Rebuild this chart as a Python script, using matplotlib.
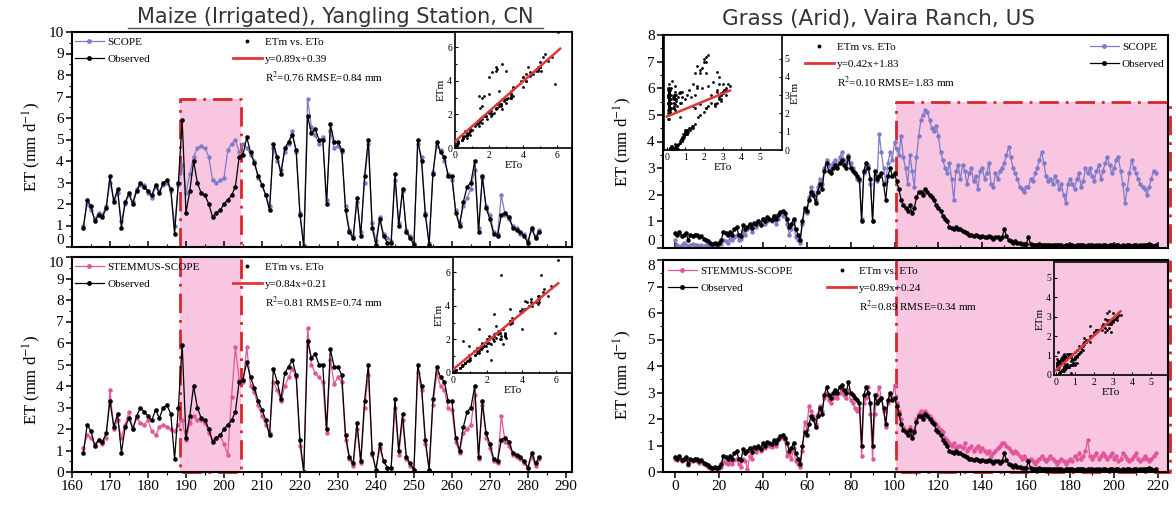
import numpy as np
import matplotlib.pyplot as plt
from matplotlib.lines import Line2D
from matplotlib.patches import Rectangle
from matplotlib.ticker import MultipleLocator

plt.rcParams["font.family"] = ["Liberation Serif", "DejaVu Serif"]
plt.rcParams["mathtext.fontset"] = "stix"

# ---- Maize (Irrigated), Yangling Station: DOY 163..283 ----
days_m = np.arange(163, 284)
obs_m = [0.9, 2.2, 1.9, 1.2, 1.5, 1.4, 1.8, 3.3, 2.1, 2.7,
         0.9, 2.1, 2.5, 2.0, 2.6, 3.0, 2.8, 2.6, 2.4, 2.9,
         2.5, 3.0, 3.1, 2.7, 0.6, 3.0, 5.9, 1.6, 2.6, 4.0,
         3.0, 2.5, 2.4, 2.0, 1.4, 1.6, 1.7, 2.0, 2.2, 2.4,
         2.8, 4.2, 4.3, 5.1, 4.4, 3.9, 3.3, 2.9, 2.4, 1.7,
         4.8, 4.2, 3.4, 4.6, 4.9, 5.2, 4.5,
         1.5, 0.0, 6.1, 5.3, 5.5, 5.0, 5.0, 2.0, 5.7, 4.9,
         4.9, 4.5, 1.7, 0.7, 0.4, 2.3, 0.5, 3.3, 5.0, 0.9,
         0.1, 1.3, 0.5, 0.2, 0.2, 3.4, 1.0, 2.7, 0.7, 0.4,
         0.1, 5.0, 4.0, 1.5, 0.1, 3.4, 4.9, 4.4, 4.2, 3.3,
         3.3, 1.6, 1.0, 2.1, 2.8, 3.0, 4.0, 0.7, 3.3, 1.8,
         1.3, 0.6, 0.5, 1.5, 1.6, 1.4, 0.9, 0.8, 0.7, 0.5,
         0.2, 0.9, 0.4, 0.7]
scope_m = [1.0, 2.0, 1.7, 1.3, 1.6, 1.5, 1.9, 3.0, 2.2, 2.5,
           1.2, 2.0, 2.4, 2.1, 2.7, 2.9, 2.9, 2.5, 2.3, 2.8,
           2.6, 2.9, 3.0, 2.6, 1.0, 2.9,
           3.8, 2.5, 3.4, 4.2, 4.6, 4.7, 4.6, 4.2, 3.1, 3.0,
           3.1, 3.2, 4.5, 4.8, 5.0, 4.4, 4.8,
           4.6, 4.3, 4.0, 3.2, 2.9, 2.4, 1.9, 4.6, 4.0, 3.6,
           4.4, 4.8, 5.4, 4.4,
           1.6, 0.1, 6.9, 5.6, 5.2, 4.8, 5.1, 2.2, 5.4, 4.6,
           4.7, 4.4, 1.9, 0.8, 0.5, 2.1, 0.7, 3.0, 4.8, 1.1,
           0.3, 1.4, 0.6, 0.4, 0.3, 3.1, 1.1, 2.6, 0.8, 0.5,
           0.2, 4.8, 4.2, 1.6, 0.2, 3.5, 4.7, 4.5, 4.0, 3.4,
           3.1, 1.7, 1.1, 1.9, 2.3, 2.7, 3.6, 0.9, 3.2, 1.9,
           1.5, 0.7, 0.6, 2.4, 1.5, 1.3, 1.0, 0.9, 0.6, 0.6,
           0.3, 0.8, 0.5, 0.8]
stem_m = [1.1, 1.7, 1.6, 1.3, 1.5, 1.3, 1.6, 3.8, 2.0, 2.4,
          1.6, 2.2, 2.8, 2.0, 2.5, 2.3, 2.2, 2.4, 1.9, 1.7,
          2.1, 2.2, 2.1, 2.0, 1.9, 2.2,
          2.4, 1.5, 2.3, 2.6, 2.4, 2.4, 2.3, 1.8, 1.5, 1.6,
          1.7, 1.3, 0.8, 3.5, 5.8, 4.3, 4.2,
          5.8, 4.0, 3.7, 3.1, 2.6, 2.2, 1.8, 4.2, 3.8, 3.3,
          4.0, 4.4, 4.8, 4.4,
          1.2, 0.0, 6.7, 5.0, 4.6, 4.4, 4.2, 1.8, 5.2, 4.1,
          4.4, 4.2, 1.5, 0.6, 0.3, 2.0, 0.4, 3.0, 4.5, 0.8,
          0.1, 1.1, 0.5, 0.2, 0.2, 3.0, 0.8, 2.4, 0.6, 0.3,
          0.1, 4.6, 3.8, 1.3, 0.1, 3.1, 4.6, 4.0, 3.8, 3.0,
          2.9, 1.4, 0.9, 1.8, 2.0, 2.2, 3.6, 0.6, 3.1, 1.6,
          1.1, 0.5, 0.4, 2.6, 1.4, 1.2, 0.8, 0.7, 0.6, 0.4,
          0.2, 0.7, 0.3, 0.6]

# ---- Grass (Arid), Vaira Ranch: day 0..219 ----
days_g = np.arange(0, 220)
obs_g = [0.55, 0.5, 0.6, 0.45, 0.5, 0.55, 0.3, 0.5, 0.45, 0.5,
         0.5, 0.4, 0.45, 0.35, 0.3, 0.25, 0.2, 0.15, 0.2, 0.15,
         0.2, 0.3, 0.6, 0.55, 0.5, 0.6, 0.5, 0.7, 0.8, 0.5,
         0.45, 0.85, 0.7, 0.8, 0.9, 0.75, 0.95, 0.9, 1.0, 0.85,
         1.1, 1.0, 1.15, 1.1, 1.05, 1.2, 1.1, 1.25, 1.35, 1.4,
         1.3, 1.1, 0.8, 0.9, 1.1, 0.7, 0.5, 0.3, 1.0, 1.5,
         1.4, 1.8, 2.1, 2.0, 1.7, 2.1, 2.4, 2.2, 2.9, 3.2,
         2.9, 2.8, 3.0, 3.1, 3.0, 3.2, 3.3, 3.1, 3.0, 3.4,
         3.0, 2.9, 2.8, 2.7, 2.6, 1.0, 2.9, 3.2, 3.0, 2.6,
         1.0, 2.9, 2.6, 2.7, 2.8, 2.4, 1.8, 2.7, 3.0, 2.7,
         2.8, 2.5, 2.2, 1.8, 1.6, 1.5, 1.4, 1.6, 1.3, 1.5,
         1.9, 2.1, 2.1, 2.0, 2.2, 2.1, 2.0, 1.9, 1.8, 1.6,
         1.5, 1.4, 1.2, 1.1, 1.0, 0.8, 0.75, 0.7, 0.8, 0.7,
         0.7, 0.65, 0.6, 0.55, 0.5, 0.5, 0.45, 0.5, 0.45, 0.4,
         0.45, 0.4, 0.4, 0.45, 0.4, 0.35, 0.4, 0.4, 0.35, 0.4,
         0.7, 0.45, 0.3, 0.25, 0.2, 0.25, 0.2, 0.2, 0.15, 0.15,
         0.15, 0.4, 0.15, 0.1, 0.12, 0.1, 0.15, 0.12, 0.1, 0.1,
         0.1, 0.12, 0.1, 0.1, 0.12, 0.1, 0.1, 0.08, 0.1, 0.12,
         0.1, 0.1, 0.08, 0.1, 0.1, 0.12, 0.1, 0.08, 0.1, 0.1,
         0.1, 0.08, 0.1, 0.1, 0.08, 0.1, 0.1, 0.08, 0.1, 0.1,
         0.08, 0.1, 0.1, 0.08, 0.1, 0.08, 0.1, 0.1, 0.08, 0.1,
         0.1, 0.08, 0.1, 0.12, 0.1, 0.12, 0.15, 0.1, 0.08, 0.1]
scope_g = [0.3, 0.1, 0.05, 0.1, 0.2, 0.1, 0.05, 0.1, 0.15, 0.1,
           0.1, 0.05, 0.1, 0.05, 0.1, 0.05, 0.05, 0.1, 0.05, 0.1,
           0.2, 0.15, 0.3, 0.25, 0.2, 0.35, 0.3, 0.4, 0.5, 0.3,
           0.35, 0.6, 0.5, 0.7, 0.8, 0.6, 0.9, 0.8, 1.0, 0.9,
           1.1, 0.9, 1.0, 1.1, 1.0, 1.2, 0.9, 1.1, 1.3, 1.2,
           1.2, 0.9, 0.5, 0.7, 1.0, 0.4, 0.3, 0.2, 0.9, 1.4,
           1.3, 1.9, 2.3, 2.1, 1.8, 2.3, 2.6, 2.4, 3.0, 3.3,
           3.1, 2.9, 3.2, 3.3, 3.1, 3.4, 3.6, 3.3, 3.2, 3.5,
           3.2, 3.0, 2.8, 2.6, 2.5, 1.1, 2.8, 3.0, 3.1, 2.4,
           1.0, 2.7, 2.5, 4.3, 3.6, 3.0, 2.5, 3.2, 3.6, 3.3,
           4.0, 3.7, 3.5, 4.2, 3.4, 3.0, 2.4, 3.5, 2.9, 2.3,
           3.4, 4.2, 4.8, 5.0, 5.2, 5.1, 4.8, 4.5, 4.4, 4.6,
           4.2, 3.6, 3.3, 3.0, 2.8, 3.2, 2.6, 1.8, 2.9, 3.1,
           2.6, 3.1, 2.9, 2.4, 2.8, 3.0, 2.5, 2.7, 2.2, 2.9,
           3.0, 2.6, 2.8, 3.2, 2.4, 2.3, 2.8, 2.6, 2.9, 3.0,
           3.2, 3.5, 3.8, 3.4, 3.0, 2.8, 2.6, 2.3, 2.2, 2.1,
           2.3, 2.3, 2.6, 2.5, 2.8, 3.0, 3.3, 3.6, 3.2, 2.7,
           2.5, 2.6, 2.4, 2.7, 2.5, 2.2, 2.4, 2.0, 1.7, 2.4,
           2.6, 2.4, 2.2, 2.6, 2.8, 2.3, 2.5, 3.0, 2.8, 3.0,
           2.7, 2.5, 2.9, 3.1, 2.6, 2.9, 3.2, 3.4, 3.1, 2.8,
           3.0, 3.3, 3.4, 2.9, 2.4, 1.7, 2.2, 2.8, 3.3, 3.0,
           2.8, 2.6, 2.4, 2.3, 2.2, 2.0, 2.3, 2.6, 2.9, 2.8]
stem_g = [0.5, 0.45, 0.55, 0.4, 0.45, 0.5, 0.25, 0.4, 0.4, 0.45,
          0.4, 0.35, 0.4, 0.3, 0.25, 0.2, 0.15, 0.1, 0.15, 0.1,
          0.15, 0.2, 0.4, 0.35, 0.3, 0.4, 0.3, 0.45, 0.5, 0.3,
          0.2, 0.5, 0.4, 0.1, 0.6, 0.5, 0.8, 0.75, 0.9, 0.8,
          1.0, 0.9, 1.1, 1.0, 0.95, 1.1, 1.0, 1.2, 1.3, 1.3,
          1.2, 0.6, 0.7, 0.5, 0.9, 0.4, 0.3, 0.2, 0.8, 1.9,
          1.6, 2.5, 2.3, 2.1, 1.8, 2.2, 2.5, 2.3, 2.8, 3.0,
          2.7, 2.6, 2.8, 2.9, 2.8, 3.0, 3.1, 2.9, 2.8, 3.1,
          2.7, 2.6, 2.4, 2.3, 2.4, 0.6, 2.6, 2.8, 3.2, 2.2,
          0.5, 2.2, 2.9, 3.2, 2.8, 2.3, 1.7, 2.6, 2.9, 2.8,
          3.3, 2.6, 2.3, 2.0, 1.7, 1.6, 1.5, 1.7, 1.4, 1.6,
          2.0, 2.2, 2.3, 2.2, 2.3, 2.2, 2.1, 2.0, 1.9, 1.8,
          1.7, 1.6, 1.5, 1.3, 1.2, 1.1, 1.0, 1.1, 0.9, 1.0,
          1.0, 0.9, 1.1, 0.8, 0.9, 1.0, 0.8, 0.9, 1.0, 0.8,
          0.9, 0.8, 0.7, 0.8, 0.6, 0.7, 0.8, 0.9, 1.0, 1.1,
          1.1, 1.0, 0.9, 0.8, 0.7, 0.8, 0.7, 0.6, 0.5, 0.6,
          0.5, 0.4, 0.5, 0.4, 0.3, 0.4, 0.5, 0.6, 0.5, 0.4,
          0.5, 0.6, 0.5, 0.4, 0.3, 0.4, 0.5, 0.4, 0.3, 0.4,
          0.5, 0.4, 0.6, 0.5, 0.7, 0.5, 0.6, 0.8, 1.2, 0.6,
          0.5, 0.6, 0.7, 0.5, 0.6, 0.7, 0.6, 0.5, 0.6, 0.7,
          0.5, 0.6, 0.4, 0.5, 0.7, 0.6, 0.5, 0.4, 0.5, 0.6,
          0.7, 0.5, 0.4, 0.5, 0.6, 0.5, 0.4, 0.5, 0.6, 0.7]

# regression lines printed in the insets (slope, intercept, R2, RMSE)
fit_scope_m = (0.89, 0.39, "0.76", "0.84")
fit_stem_m = (0.84, 0.21, "0.81", "0.74")
fit_scope_g = (0.42, 1.83, "0.10", "1.83")
fit_stem_g = (0.89, 0.24, "0.89", "0.34")

W, H = 1176, 512
PINK = "#f9c6e1"
RED = "#d8262c"
FITRED = "#e03838"
SCOPE_C = "#7f7bc9"
STEM_C = "#e2559a"
DASHDOT = (0, (7, 2.5, 1, 2.5))


def rect(x0, y0, x1, y1):
    # pixel box of the reference -> figure fraction
    return [x0 / W, 1 - y1 / H, (x1 - x0) / W, (y1 - y0) / H]


fig = plt.figure(figsize=(W / 100, H / 100), dpi=100)
fig.patch.set_facecolor("white")


def main_axes(box, xlim, ylim, xmaj, xmin, ymaj, ymin, bottom):
    ax = fig.add_axes(rect(*box))
    ax.set_xlim(*xlim)
    ax.set_ylim(*ylim)
    ax.xaxis.set_major_locator(MultipleLocator(xmaj))
    ax.xaxis.set_minor_locator(MultipleLocator(xmin))
    ax.set_yticks(np.arange(ylim[0], ylim[1] + ymaj / 2, ymaj))
    ax.yaxis.set_minor_locator(MultipleLocator(ymin))
    for s in ax.spines.values():
        s.set_linewidth(1.5)
        s.set_zorder(6)
    ax.tick_params(which="major", direction="out", length=4, width=1.1, labelsize=11, pad=2)
    ax.tick_params(which="minor", direction="out", length=2.5, width=0.8)
    ticks = ax.yaxis.get_major_ticks()
    if not bottom:
        ax.tick_params(axis="x", which="both", direction="in", labelbottom=False)
        ticks[0].label1.set_va("bottom")   # "0" sits just above the panel seam
    else:
        ticks[-1].label1.set_va("top")     # top label sits just below the seam
    return ax


def draw_series(ax, x, model, obs, color):
    ax.plot(x, model, color=color, lw=0.9, marker="o", ms=2.2, zorder=3)
    ax.plot(x, obs, color="k", lw=0.9, marker="o", ms=2.3, zorder=4)


def legends(ax, model_name, color, fit, loc1, loc2):
    h1 = [Line2D([], [], color=color, lw=0.9, marker="o", ms=2.5),
          Line2D([], [], color="k", lw=0.9, marker="o", ms=2.5)]
    kw = dict(frameon=False, fontsize=8, handlelength=2.6, handletextpad=0.3,
              labelspacing=0.6, borderaxespad=0, borderpad=0, numpoints=1)
    lg1 = ax.legend(h1, [model_name, "Observed"], **loc1, **kw)
    ax.add_artist(lg1)
    slope, icpt, r2, rmse = fit
    h2 = [Line2D([], [], lw=0, marker="o", ms=1.8, color="k"),
          Line2D([], [], color=FITRED, lw=2),
          Line2D([], [], lw=0)]
    labels = ["ETm vs. ETo", f"y={slope:.2f}x+{icpt:.2f}",
              f"R$^2$={r2} RMSE={rmse} mm"]
    lg2 = ax.legend(h2, labels, **loc2, **kw)
    lg2.set_zorder(7)


def inset(box, x, y, fit, xlim, ylim, ticks, minor, fit_xmax, yright=False, face="white"):
    a = fig.add_axes(rect(*box))
    a.set_facecolor(face)
    a.scatter(x, y, s=4, c="k", lw=0, zorder=3)
    slope, icpt = fit[0], fit[1]
    xf = np.array([0.0, fit_xmax])
    a.plot(xf, slope * xf + icpt, color=FITRED, lw=1.8, zorder=4)
    a.set_xlim(*xlim)
    a.set_ylim(*ylim)
    a.set_xticks(ticks)
    a.set_yticks(ticks)
    if minor:
        a.set_xticks(minor, minor=True)
        a.set_yticks(minor, minor=True)
    for s in a.spines.values():
        s.set_linewidth(1.2)
    a.tick_params(which="both", direction="in", labelsize=7, length=2.5, width=0.8, pad=2)
    a.tick_params(which="minor", length=1.5)
    if yright:
        a.yaxis.tick_right()
        a.yaxis.set_label_position("right")
    a.set_xlabel("ETo", fontsize=8, labelpad=1)
    a.set_ylabel("ETm", fontsize=8, labelpad=1)
    return a


# ---------------- Maize ----------------
ax1 = main_axes((72, 32, 572, 247), (160, 291.6), (0, 10), 10, 5, 1, 0.5, False)
ax2 = main_axes((72, 257, 572, 472), (160, 291.6), (0, 10), 10, 5, 1, 0.5, True)

box_m = (188.5, 204.5)
box_m_top = 6.9
ax1.add_patch(Rectangle((box_m[0], 0), box_m[1] - box_m[0], box_m_top,
                        fc=PINK, ec="none", zorder=0))
ax1.plot([box_m[0], box_m[0], box_m[1], box_m[1]], [0, box_m_top, box_m_top, 0],
         color=RED, lw=2, ls=DASHDOT, zorder=2, clip_on=False)
ax2.axvspan(*box_m, color=PINK, lw=0, zorder=0)
ax2.plot([box_m[0], box_m[0], box_m[1], box_m[1]], [10, 0, 0, 10],
         color=RED, lw=2, ls=DASHDOT, zorder=2, clip_on=False)

draw_series(ax1, days_m, scope_m, obs_m, SCOPE_C)
draw_series(ax2, days_m, stem_m, obs_m, STEM_C)

legends(ax1, "SCOPE", SCOPE_C, fit_scope_m,
        dict(loc="upper left", bbox_to_anchor=(0.006, 0.975)),
        dict(loc="upper left", bbox_to_anchor=(0.322, 0.975)))
legends(ax2, "STEMMUS-SCOPE", STEM_C, fit_stem_m,
        dict(loc="upper left", bbox_to_anchor=(0.006, 0.975)),
        dict(loc="upper left", bbox_to_anchor=(0.322, 0.975)))

inset((455, 32, 572, 148), obs_m, scope_m, fit_scope_m, (0, 6.9), (0, 6.9),
      [0, 2, 4, 6], [1, 3, 5], 6.2)
inset((453, 257, 572, 373), obs_m, stem_m, fit_stem_m, (0, 6.9), (0, 6.9),
      [0, 2, 4, 6], [1, 3, 5], 6.1)

# ---------------- Grass ----------------
xl_g = (-5.5, 224.6)
ax3 = main_axes((663, 35, 1168, 248), xl_g, (0, 8), 20, 10, 1, 0.5, False)
ax4 = main_axes((663, 260, 1168, 472), xl_g, (0, 8), 20, 10, 1, 0.5, True)

box_g0 = 100.5
box_g_top = 5.5
ax3.add_patch(Rectangle((box_g0, 0), xl_g[1] - box_g0, box_g_top,
                        fc=PINK, ec="none", zorder=0))
ax3.plot([box_g0, box_g0, xl_g[1] + 1, xl_g[1] + 1], [0, box_g_top, box_g_top, 0],
         color=RED, lw=2, ls=DASHDOT, zorder=2, clip_on=False)
ax4.axvspan(box_g0, xl_g[1], color=PINK, lw=0, zorder=0)
ax4.plot([box_g0, box_g0, xl_g[1] + 1, xl_g[1] + 1], [8, 0, 0, 8],
         color=RED, lw=2, ls=DASHDOT, zorder=2, clip_on=False)

draw_series(ax3, days_g, scope_g, obs_g, SCOPE_C)
draw_series(ax4, days_g, stem_g, obs_g, STEM_C)

legends(ax3, "SCOPE", SCOPE_C, fit_scope_g,
        dict(loc="upper left", bbox_to_anchor=(0.845, 0.965)),
        dict(loc="upper left", bbox_to_anchor=(0.281, 0.965)))
legends(ax4, "STEMMUS-SCOPE", STEM_C, fit_stem_g,
        dict(loc="upper left", bbox_to_anchor=(0.01, 0.97)),
        dict(loc="upper left", bbox_to_anchor=(0.325, 0.97)))

inset((664, 35, 782, 150), obs_g, scope_g, fit_scope_g, (-0.15, 6.2), (0, 6.3),
      [0, 1, 2, 3, 4, 5], None, 3.4, yright=True)
inset((1054, 262, 1168, 375), obs_g, stem_g, fit_stem_g, (-0.1, 5.9), (0, 5.8),
      [0, 1, 2, 3, 4, 5], None, 3.4, face="none")

# ---------------- labels ----------------
ylab = "ET (mm d$^{-1}$)"
fig.text(32 / W, 1 - 147 / H, ylab, rotation=90, ha="center", va="center", fontsize=12)
fig.text(32 / W, 1 - 380 / H, ylab, rotation=90, ha="center", va="center", fontsize=12)
fig.text(623 / W, 1 - 142 / H, ylab, rotation=90, ha="center", va="center", fontsize=12)
fig.text(623 / W, 1 - 375 / H, ylab, rotation=90, ha="center", va="center", fontsize=12)

fig.text(335 / W, 1 - 17 / H, "Maize (Irrigated), Yangling Station, CN",
         ha="center", va="center", fontsize=15, family="DejaVu Sans", color="#333333")
fig.text(878 / W, 1 - 19 / H, "Grass (Arid), Vaira Ranch, US",
         ha="center", va="center", fontsize=15.5, family="DejaVu Sans", color="#333333")
fig.add_artist(Line2D([128 / W, 543 / W], [1 - 28 / H] * 2, color="#555555", lw=1))

fig.savefig("out.png", dpi=100, facecolor="white")
